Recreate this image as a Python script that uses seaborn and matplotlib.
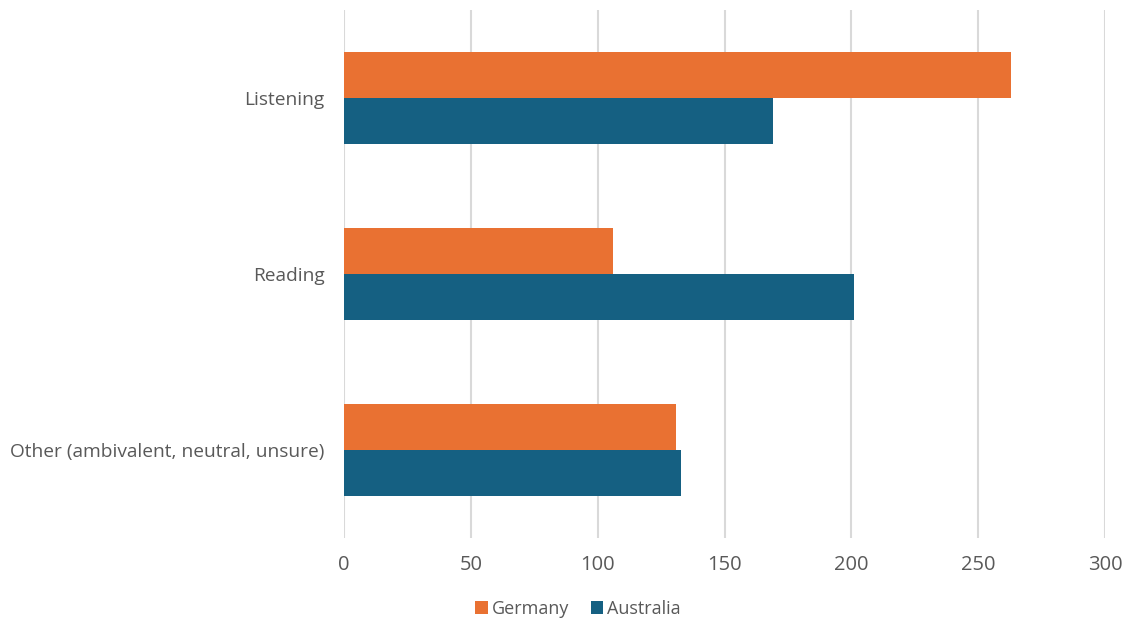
import matplotlib
matplotlib.use("Agg")
import matplotlib.pyplot as plt
import seaborn as sns
import pandas as pd
from matplotlib.patches import Patch

categories = ["Listening", "Reading", "Other (ambivalent, neutral, unsure)"]
series = ["Germany", "Australia"]
germany = [263, 106, 131]
australia = [169, 201, 133]
x_ticks = [0, 50, 100, 150, 200, 250, 300]

colors = {"Germany": "#E97132", "Australia": "#156082"}
text_color = "#595959"

sns.set_theme(style="white")
plt.rcParams["font.family"] = ["Open Sans", "DejaVu Sans"]

df = pd.DataFrame({
    "category": categories * 2,
    "country": ["Germany"] * 3 + ["Australia"] * 3,
    "value": germany + australia,
})

fig = plt.figure(figsize=(11.3, 6.21), dpi=100)
ax = fig.add_axes([344 / 1130, 1 - 538 / 621, (1105 - 344) / 1130, (538 - 10) / 621])

sns.barplot(data=df, y="category", x="value", hue="country", order=categories,
            hue_order=series, palette=colors, orient="h", width=0.52,
            linewidth=0, saturation=1, ax=ax, legend=False)

ax.set_xlim(0, 300)
ax.set_ylim(2.5, -0.5)
ax.set_xticks(x_ticks)
ax.set_xticklabels([str(t) for t in x_ticks])
ax.set_xlabel("")
ax.set_ylabel("")
ax.grid(axis="x", color="#D9D9D9", linewidth=1.5)
ax.set_axisbelow(True)
for s in ax.spines.values():
    s.set_visible(False)
ax.tick_params(axis="both", length=0, colors=text_color)
ax.tick_params(axis="x", pad=12, labelsize=14.5)
ax.tick_params(axis="y", pad=14, labelsize=13.8)

handles = [Patch(facecolor=colors[s], edgecolor="none", label=s) for s in series]
fig.legend(handles=handles, loc="center", bbox_to_anchor=(578 / 1130, 1 - 609 / 621),
           ncol=2, frameon=False, fontsize=13, handlelength=0.7, handleheight=0.7,
           handletextpad=0.2, columnspacing=1.2, labelcolor=text_color)

fig.savefig("out.png", dpi=100)
